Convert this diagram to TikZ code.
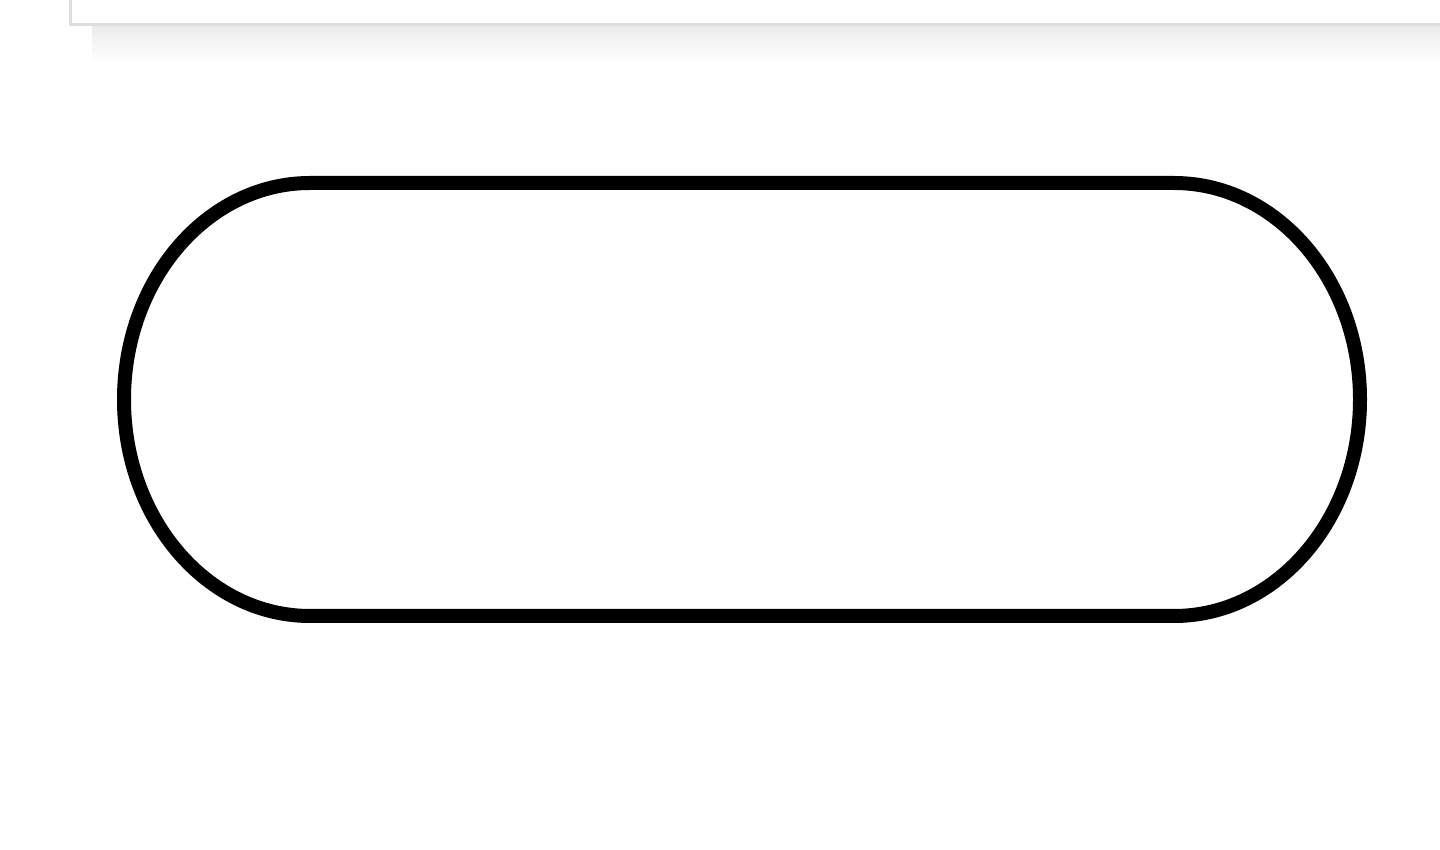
\documentclass[tikz,border=0pt]{standalone}
\begin{document}
\begin{tikzpicture}[x=1pt,y=1pt,
  panelstyle/.style={draw=black!13,line width=3pt,fill=white},
  stadiumstyle/.style={draw=black,line width=14pt,fill=white}]
\useasboundingbox (0,0) rectangle (1440,849);
\fill[white] (0,0) rectangle (1440,849);
% soft shadow under the panel
\shade[top color=black!8,bottom color=white] (92,824) rectangle (1440,788);
% panel
\draw[panelstyle] (70,860) rectangle (1450,824);
% stadium
\draw[stadiumstyle] (310,666) -- (1174,666)
  arc[start angle=90,end angle=-90,x radius=186,y radius=216.5]
  -- (310,233)
  arc[start angle=270,end angle=90,x radius=186,y radius=216.5]
  -- cycle;
\end{tikzpicture}
\end{document}
